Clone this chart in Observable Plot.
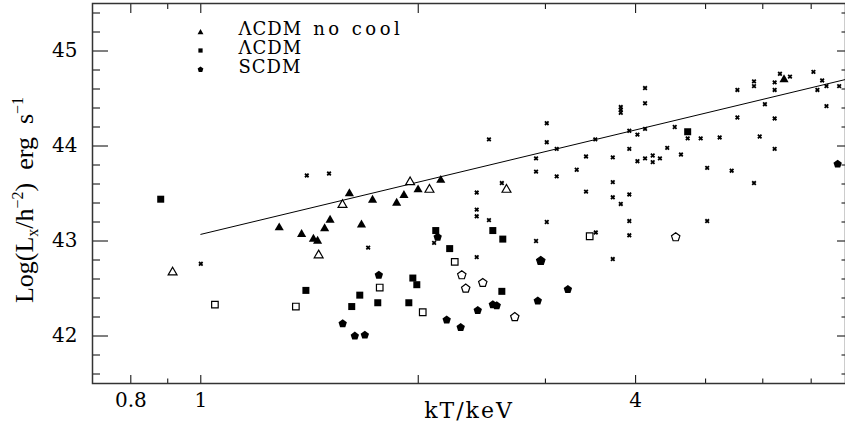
<!DOCTYPE html>
<html><head><meta charset="utf-8">
<script src="https://cdn.jsdelivr.net/npm/d3@7"></script>
<script src="https://cdn.jsdelivr.net/npm/@observablehq/plot@0.6"></script>
<style>body{margin:0;background:#fff}</style>
</head><body><div id="chart"></div>
<script>
// ---- data (kT in keV, log Lx) ----
const noCoolFilledT = [1.284, 1.379, 1.432, 1.451, 1.484, 1.510, 1.606, 1.669, 1.729, 1.867, 1.911, 1.999, 2.149, 6.42];
const noCoolFilledL = [43.14, 43.07, 43.02, 43.00, 43.13, 43.22, 43.50, 43.17, 43.43, 43.40, 43.48, 43.54, 43.64, 44.70];
const noCoolOpenT = [0.914, 1.456, 1.571, 1.949, 2.073, 2.650];
const noCoolOpenL = [42.67, 42.85, 43.38, 43.62, 43.54, 43.54];
const lcdmFilledT = [0.880, 1.398, 1.618, 1.660, 1.758, 1.941, 1.966, 1.991, 2.115, 2.211, 2.537, 2.619, 2.611, 4.722];
const lcdmFilledL = [43.44, 42.48, 42.31, 42.43, 42.35, 42.35, 42.61, 42.54, 43.11, 42.92, 43.11, 43.02, 42.47, 44.15];
const lcdmOpenT = [1.046, 1.354, 1.769, 2.029, 2.247, 3.455];
const lcdmOpenL = [42.33, 42.31, 42.51, 42.25, 42.78, 43.05];
const scdmFilledT = [1.572, 1.634, 1.687, 1.764, 2.128, 2.190, 2.290, 2.418, 2.537, 2.569, 2.928, 2.956, 3.223, 7.617];
const scdmFilledL = [42.13, 42.00, 42.01, 42.64, 43.04, 42.17, 42.09, 42.27, 42.33, 42.32, 42.37, 42.79, 42.49, 43.81];
const scdmOpenT = [2.298, 2.327, 2.457, 2.721, 2.956, 4.545];
const scdmOpenL = [42.64, 42.50, 42.56, 42.20, 42.79, 43.04];
const obsT = [1.000, 1.402, 1.505, 1.705, 2.104, 2.410, 2.410, 2.410, 2.410, 2.506, 2.506, 2.611, 2.912, 2.912, 2.912,
  3.013, 3.013, 3.013, 3.110, 3.110, 3.315, 3.415, 3.415, 3.517, 3.523, 3.719, 3.719, 3.719, 3.719,
  3.815, 3.815, 3.815, 3.815, 3.920, 3.920, 3.920, 3.920, 3.920, 4.023, 4.023, 4.122, 4.122, 4.122, 4.122,
  4.224, 4.224, 4.322, 4.424, 4.531, 4.622, 4.722, 4.922, 5.025, 5.025, 5.229, 5.433, 5.533, 5.533,
  5.834, 5.834, 5.834, 5.941, 6.040, 6.231, 6.231, 6.231, 6.231, 6.337, 6.543, 7.051, 7.141, 7.250, 7.350, 7.350, 7.654];
const obsL = [42.76, 43.69, 43.71, 42.93, 42.98, 43.51, 43.33, 43.26, 42.83, 44.07, 43.22, 43.61, 43.87, 43.73, 43.00,
  44.24, 44.04, 43.20, 43.97, 43.68, 43.75, 43.89, 43.52, 44.07, 43.09, 43.88, 43.62, 43.46, 42.81,
  44.41, 44.38, 44.35, 43.39, 44.16, 43.97, 43.49, 43.21, 43.06, 44.12, 43.84, 44.61, 44.45, 44.18, 43.87,
  43.90, 43.83, 43.87, 43.98, 44.20, 43.91, 44.08, 44.08, 43.77, 43.21, 44.09, 43.74, 44.59, 44.30,
  44.68, 44.63, 43.61, 44.10, 44.44, 44.67, 44.59, 44.29, 43.97, 44.76, 44.73, 44.78, 44.59, 44.69, 44.63, 44.42, 44.63];
const fitT = [1.0, 7.81];
const fitL = [43.07, 44.70];

const xTickLabels = [0.8, 1, 4];
const xMajorTicks = [0.8, 1, 2, 4];
const xMinorTicks = [0.9, 3, 5, 6, 7];
const yTickLabels = [42, 43, 44, 45];
const yMinorTicks = [41.6, 41.8, 42.2, 42.4, 42.6, 42.8, 43.2, 43.4, 43.6, 43.8, 44.2, 44.4, 44.6, 44.8, 45.2, 45.4];
const legendLabels = ["ΛCDM no cool", "ΛCDM", "SCDM"];

const zip = (T, L) => T.map((t, i) => ({T: t, L: L[i]}));

const pentagon = {
  draw(ctx, size) {
    const r = Math.sqrt(size / Math.PI);
    for (let i = 0; i < 5; i++) {
      const a = -Math.PI / 2 + i * 2 * Math.PI / 5;
      const x = r * Math.cos(a), y = r * Math.sin(a);
      if (i) ctx.lineTo(x, y); else ctx.moveTo(x, y);
    }
    ctx.closePath();
  }
};

const W = 845, H = 433, mL = 92, mR = 0, mT = 3, mB = 50;
const FW = W - mL - mR, FH = H - mT - mB;
const font = "DejaVu Serif";
const legText = {frameAnchor: "top-left", dx: 146, text: d => d, textAnchor: "start", fontSize: 18, lineAnchor: "middle", fill: "#000"};

const plot = Plot.plot({
  width: W, height: H,
  marginLeft: mL, marginRight: mR, marginTop: mT, marginBottom: mB,
  style: {fontFamily: font, background: "#fff", color: "#000"},
  x: {type: "log", domain: [0.708, 7.81]},
  y: {domain: [41.5, 45.5]},
  marks: [
    // ticks (inward)
    Plot.ruleX(xMajorTicks, {insetTop: FH - 8, stroke: "#000", strokeWidth: 1}),
    Plot.ruleX(xMajorTicks, {insetBottom: FH - 10, stroke: "#000", strokeWidth: 1}),
    Plot.ruleX(xMinorTicks, {insetTop: FH - 4.5, stroke: "#000", strokeWidth: 1}),
    Plot.ruleX(xMinorTicks, {insetBottom: FH - 6, stroke: "#000", strokeWidth: 1}),
    Plot.ruleY(yTickLabels, {insetRight: FW - 16, stroke: "#000", strokeWidth: 1}),
    Plot.ruleY(yMinorTicks, {insetRight: FW - 8, stroke: "#000", strokeWidth: 1}),
    Plot.ruleY(yTickLabels, {insetLeft: FW - 8, stroke: "#000", strokeWidth: 1}),
    Plot.ruleY(yMinorTicks, {insetLeft: FW - 3.5, stroke: "#000", strokeWidth: 1}),
    Plot.axisX({ticks: xTickLabels, tickFormat: d => String(d), tickSize: 0, tickPadding: 9, label: null, fontSize: 20}),
    Plot.axisY({ticks: yTickLabels, tickFormat: d => String(d), tickSize: 0, tickPadding: 15, label: null, fontSize: 20}),
    Plot.frame({stroke: "#333", strokeWidth: 1.5}),
    // fit line
    Plot.line(zip(fitT, fitL), {x: "T", y: "L", stroke: "#000", strokeWidth: 1}),
    // observed clusters
    Plot.dot(zip(obsT, obsL), {x: "T", y: "L", symbol: "times", r: 1.8, stroke: "#000", strokeWidth: 1.8}),
    // simulations
    Plot.dot(zip(noCoolFilledT, noCoolFilledL), {x: "T", y: "L", symbol: "triangle", r: 3.4, fill: "#000", stroke: "none"}),
    Plot.dot(zip(noCoolOpenT, noCoolOpenL), {x: "T", y: "L", symbol: "triangle", r: 3.3, fill: "#fff", stroke: "#000", strokeWidth: 1.2}),
    Plot.dot(zip(lcdmFilledT, lcdmFilledL), {x: "T", y: "L", symbol: "square", r: 3.95, fill: "#000", stroke: "none"}),
    Plot.dot(zip(lcdmOpenT, lcdmOpenL), {x: "T", y: "L", symbol: "square", r: 3.7, fill: "#fff", stroke: "#000", strokeWidth: 1.2}),
    Plot.dot(zip(scdmOpenT, scdmOpenL), {x: "T", y: "L", symbol: pentagon, r: 4.4, fill: "#fff", stroke: "#000", strokeWidth: 1.2}),
    Plot.dot(zip(scdmFilledT, scdmFilledL), {x: "T", y: "L", symbol: pentagon, r: 4.4, fill: "#000", stroke: "none"}),
    // legend
    Plot.dot([legendLabels[0]], {frameAnchor: "top-left", dx: 108, dy: 29, symbol: "triangle", r: 2.2, fill: "#000"}),
    Plot.dot([legendLabels[1]], {frameAnchor: "top-left", dx: 108, dy: 47, symbol: "square", r: 2.4, fill: "#000"}),
    Plot.dot([legendLabels[2]], {frameAnchor: "top-left", dx: 108, dy: 66, symbol: pentagon, r: 3, fill: "#000"}),
    Plot.text([legendLabels[0]], {...legText, dy: 26}),
    Plot.text([legendLabels[1]], {...legText, dy: 45}),
    Plot.text([legendLabels[2]], {...legText, dy: 64}),
    // x label
    Plot.text(["kT/keV"], {frameAnchor: "bottom", dy: 34, text: d => d, fontSize: 22, fill: "#000"})
  ]
});

document.getElementById("chart").appendChild(plot);
const svg = d3.select(plot);

// wide letter spacing for legend texts and x label
svg.selectAll("text").filter(function() { return legendLabels.includes(this.textContent); })
  .attr("letter-spacing", "1px");
svg.selectAll("text").filter(function() { return this.textContent === legendLabels[0]; })
  .each(function() {
    const sel = d3.select(this);
    sel.text(null);
    sel.append("tspan").text("ΛCDM");
    sel.append("tspan").attr("dx", 11).attr("letter-spacing", "3.5px").text("no cool");
  });
svg.selectAll("text").filter(function() { return this.textContent === "kT/keV"; })
  .attr("letter-spacing", "2px");

// y axis label with sub/superscripts
const yl = svg.append("text")
  .attr("transform", "translate(33,200) rotate(-90)")
  .attr("text-anchor", "middle")
  .attr("font-family", "Liberation Serif")
  .attr("font-size", 26)
  .attr("fill", "#000");
yl.append("tspan").text("Log(L");
yl.append("tspan").attr("font-size", 16).attr("dy", 5).text("x");
yl.append("tspan").attr("dy", -5).text("/h");
yl.append("tspan").attr("font-size", 16).attr("dy", -10).text("−2");
yl.append("tspan").attr("dy", 10).text(")  erg  s");
yl.append("tspan").attr("font-size", 16).attr("dy", -10).text("−1");
</script>
</body></html>
